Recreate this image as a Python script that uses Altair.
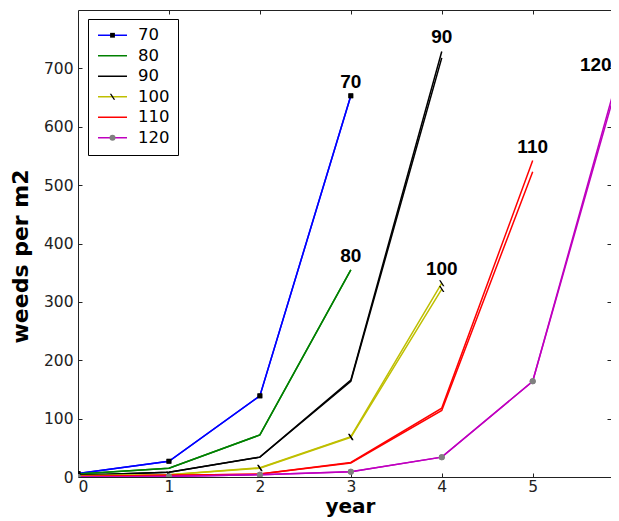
import altair as alt
import pandas as pd

# ---------------- data ----------------
years = [0, 1, 2, 3, 4, 5, 6]
series_names = ["70", "80", "90", "100", "110", "120"]
series_colors = ["#0000ff", "#008000", "#000000", "#bfbf00", "#ff0000", "#bf00bf"]

# two runs per series (they only differ near the end)
s70_a = [6, 27, 139, 653]
s70_b = [6, 27, 139, 653]
s80_a = [5, 15, 72, 355]
s80_b = [5, 15, 72, 355]
s90_a = [3, 8, 34, 166, 729]
s90_b = [3, 8, 34, 164, 718]
s100_a = [2, 4, 16, 69, 332]
s100_b = [2, 4, 15, 68, 322]
s110_a = [1, 3, 5, 25, 118, 542]
s110_b = [1, 3, 5, 24, 114, 523]
s120_a = [0, 1, 4, 9, 34, 164, 722]
s120_b = [0, 1, 4, 9, 34, 164, 712]

# markers: which series carry one, their shape and colour
marker_keys = ["m70", "m80", "m90", "m100", "m110", "m120"]
marker_paths = [
    "M-0.8,-0.8H0.8V0.8H-0.8Z",            # small square
    "M0,0Z",                                # none
    "M0,0Z",                                # none
    "M-0.9,-1L-0.4,-1L0.9,1L0.4,1Z",        # thin diagonal tick
    "M0,0Z",                                # none
    "circle",                               # circle
]
marker_fills = ["#000000", "transparent", "transparent", "#000000", "transparent", "#808080"]
marker_series = ["70", "100", "120"]

x_tick_labels = [0, 1, 2, 3, 4, 5]
x_inner_ticks = [1, 2, 3, 4, 5]
y_tick_labels = [0, 100, 200, 300, 400, 500, 600, 700]
y_inner_ticks = [100, 200, 300, 400, 500, 600, 700]

end_labels = ["70", "80", "90", "100", "110"]
end_x = [3, 3, 4, 4, 5]
end_y = [653, 355, 729, 332, 542]
last_label = ["120"]
last_x = [6]
last_y = [722]

# ---------------- tables ----------------
runs = [
    ("70", "a", s70_a), ("70", "b", s70_b),
    ("80", "a", s80_a), ("80", "b", s80_b),
    ("90", "a", s90_a), ("90", "b", s90_b),
    ("100", "a", s100_a), ("100", "b", s100_b),
    ("110", "a", s110_a), ("110", "b", s110_b),
    ("120", "a", s120_a), ("120", "b", s120_b),
]
rows = []
for name, run, vals in runs:
    for i, v in enumerate(vals):
        rows.append({"year": years[i], "value": v, "series": name, "run": run,
                     "mk": "m" + name})
df = pd.DataFrame(rows)
df_pts = df[df["series"].isin(marker_series)]
df_lab = pd.DataFrame({"year": end_x, "value": end_y, "label": end_labels})
df_last = pd.DataFrame({"year": last_x, "value": last_y, "label": last_label})

W, H = 533, 467
XMAX = 5.861
xs = alt.Scale(domain=[0, XMAX], nice=False, zero=False)
ys = alt.Scale(domain=[0, 800], nice=False)

tick_font = "DejaVu Sans"
lab_size = 15.5
leg_font = 16.5

legend_lines = alt.Legend(
    orient="none", legendX=10, legendY=9, title=None,
    symbolType="M-0.89,0H3.25", symbolSize=196, symbolStrokeWidth=1.5,
    labelFont=tick_font, labelFontSize=leg_font, labelColor="black",
    padding=8, rowPadding=3.5, labelOffset=25.5,
    strokeColor="black", fillColor="white",
)
legend_marks = alt.Legend(
    orient="none", legendX=10, legendY=9, title=None,
    symbolSize=36, symbolOffset=8.25, symbolStrokeWidth=0,
    labelFont=tick_font, labelFontSize=leg_font, labelColor="transparent",
    labelExpr="' '",
    padding=8, rowPadding=3.5,
    strokeColor="transparent", fillColor="transparent",
)

lines = alt.Chart(df).mark_line(strokeWidth=1.5, clip=True).encode(
    x=alt.X("year:Q", scale=xs,
            axis=alt.Axis(orient="bottom", values=x_tick_labels, ticks=False, grid=False,
                          domain=True, domainColor="#222", labelFont=tick_font,
                          labelFontSize=lab_size, labelColor="#222", labelPadding=2,
                          title="year", titleFont="DejaVu Sans", titleFontSize=20,
                          titleFontWeight="bold", titleColor="black",
                          titleBaseline="alphabetic", titleY=35, titleX=272)),
    y=alt.Y("value:Q", scale=ys,
            axis=alt.Axis(orient="left", values=y_tick_labels, ticks=False, grid=False,
                          domain=True, domainColor="#222", labelFont=tick_font,
                          labelFontSize=lab_size, labelColor="#222", labelPadding=5,
                          title="weeds per m2", titleFont="DejaVu Sans", titleFontSize=22,
                          titleFontWeight="bold", titleColor="black",
                          titleBaseline="alphabetic", titleX=-51, titleY=246, titleAngle=270)),
    color=alt.Color("series:N", scale=alt.Scale(domain=series_names, range=series_colors),
                    legend=legend_lines),
    detail="run:N",
)

points = alt.Chart(df_pts).mark_point(filled=True, size=36, strokeWidth=0, opacity=1, clip=True).encode(
    x=alt.X("year:Q", scale=xs,
            axis=alt.Axis(orient="top", offset=-H, values=x_inner_ticks, labels=False,
                          domain=False, grid=False, ticks=True, tickSize=4,
                          tickColor="#222", title=None)),
    y=alt.Y("value:Q", scale=ys,
            axis=alt.Axis(orient="right", offset=-W, values=y_inner_ticks, labels=False,
                          domain=False, grid=False, ticks=True, tickSize=4,
                          tickColor="#222", title=None)),
    shape=alt.Shape("mk:N", scale=alt.Scale(domain=marker_keys, range=marker_paths),
                    legend=legend_marks),
    fill=alt.Fill("mk:N", scale=alt.Scale(domain=marker_keys, range=marker_fills),
                  legend=legend_marks),
)

label_font = "Liberation Sans"
labels = alt.Chart(df_lab).mark_text(
    font=label_font, fontSize=19, fontWeight="bold", dy=-14, baseline="middle",
    align="center", color="black"
).encode(
    x=alt.X("year:Q", scale=xs,
            axis=alt.Axis(orient="bottom", offset=-H, values=x_inner_ticks, labels=False,
                          domain=True, domainColor="#222", grid=False, ticks=True,
                          tickSize=4, tickColor="#222", title=None)),
    y=alt.Y("value:Q", scale=ys,
            axis=alt.Axis(orient="left", offset=-W, values=y_inner_ticks, labels=False,
                          domain=False, grid=False, ticks=True, tickSize=4,
                          tickColor="#222", title=None)),
    text="label:N",
)

last = alt.Chart(df_last).mark_text(
    font=label_font, fontSize=19, fontWeight="bold", dx=-12, dy=9.5, baseline="middle",
    align="right", color="black"
).encode(
    x=alt.X("year:Q", scale=xs, axis=None),
    y=alt.Y("value:Q", scale=ys, axis=None),
    text="label:N",
)

chart = alt.layer(lines, points, labels, last).resolve_axis(
    x="independent", y="independent"
).properties(
    width=W, height=H,
    autosize=alt.AutoSizeParams(type="none"),
    padding={"left": 70, "top": 2, "right": 0, "bottom": 44},
).configure_view(stroke=None)

chart.save("out.html", embed_options={"renderer": "svg", "actions": False})
